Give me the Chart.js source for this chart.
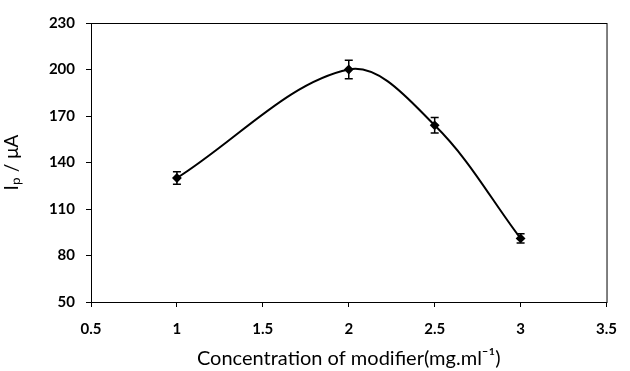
<!DOCTYPE html>
<html>
<head>
<meta charset="utf-8">
<script src="https://cdn.jsdelivr.net/npm/chart.js@4/dist/chart.umd.min.js"></script>
<style>
  html, body { margin: 0; padding: 0; background: #fff; }
  #wrap { width: 630px; height: 371px; }
</style>
</head>
<body>
<div id="wrap"><canvas id="chart"></canvas></div>
<script>
// Data
const concentration = [1, 2, 2.5, 3];        // mg.ml-1
const peakCurrent = [130, 200, 164, 91];     // uA
const errorSize = [4, 6, 5, 3];              // +/- uA
const xTicks = [0.5, 1, 1.5, 2, 2.5, 3, 3.5];
const yTicks = [50, 80, 110, 140, 170, 200, 230];

// Draws the box round the plot and the error bars
const framePlugin = {
  id: 'frame',
  afterDatasetsDraw(chart) {
    const { ctx, chartArea, scales } = chart;
    ctx.save();
    ctx.strokeStyle = '#000';
    ctx.lineWidth = 1.5;
    concentration.forEach((c, i) => {
      const x = scales.x.getPixelForValue(c);
      const yTop = scales.y.getPixelForValue(peakCurrent[i] + errorSize[i]);
      const yBot = scales.y.getPixelForValue(peakCurrent[i] - errorSize[i]);
      ctx.beginPath();
      ctx.moveTo(x, yTop); ctx.lineTo(x, yBot);
      ctx.moveTo(x - 4, yTop); ctx.lineTo(x + 4, yTop);
      ctx.moveTo(x - 4, yBot); ctx.lineTo(x + 4, yBot);
      ctx.stroke();
    });
    ctx.lineWidth = 1;
    ctx.strokeRect(chartArea.left + 0.5, chartArea.top + 0.5,
      chartArea.right - chartArea.left, chartArea.bottom - chartArea.top);
    ctx.restore();
  }
};

new Chart(document.getElementById('chart'), {
  type: 'scatter',
  data: {
    datasets: [{
      data: concentration.map((c, i) => ({ x: c, y: peakCurrent[i] })),
      showLine: true,
      borderColor: '#000',
      backgroundColor: '#000',
      borderWidth: 2,
      tension: 0.35,
      pointStyle: 'rectRot',
      pointRadius: 3.5
    }]
  },
  options: {
    responsive: true,
    maintainAspectRatio: false,
    animation: false,
    layout: { padding: { top: 23, right: 13, left: 0, bottom: 0 } },
    plugins: {
      legend: { display: false },
      tooltip: { enabled: false }
    },
    scales: {
      x: {
        type: 'linear',
        min: 0.5,
        max: 3.5,
        afterBuildTicks: s => { s.ticks = xTicks.map(v => ({ value: v })); },
        afterFit: s => { s.height = 69; },
        grid: { drawOnChartArea: false, drawTicks: true, tickLength: 5, color: '#000' },
        border: { color: '#000', width: 1 },
        ticks: {
          color: '#000', padding: 13,
          callback: v => String(v),
          font: { family: 'Lato', size: 15, weight: 'bold' }
        },
        title: {
          display: true,
          text: 'Concentration of modifier(mg.ml\u207B\u00B9)',
          color: '#000',
          padding: { top: 0, bottom: 0 },
          font: { family: 'Lato', size: 20 }
        }
      },
      y: {
        min: 50,
        max: 230,
        afterBuildTicks: s => { s.ticks = yTicks.map(v => ({ value: v })); },
        afterFit: s => { s.width = 91; },
        grid: { drawOnChartArea: false, drawTicks: true, tickLength: 5, color: '#000' },
        border: { color: '#000', width: 1 },
        ticks: {
          color: '#000', padding: 11,
          callback: v => String(v),
          font: { family: 'Lato', size: 15, weight: 'bold' }
        },
        title: {
          display: true,
          text: 'I\u209A / \u03BCA',
          color: '#000',
          padding: { top: 0, bottom: 0 },
          font: { family: 'Lato', size: 19 }
        }
      }
    }
  },
  plugins: [framePlugin]
});
</script>
</body>
</html>
